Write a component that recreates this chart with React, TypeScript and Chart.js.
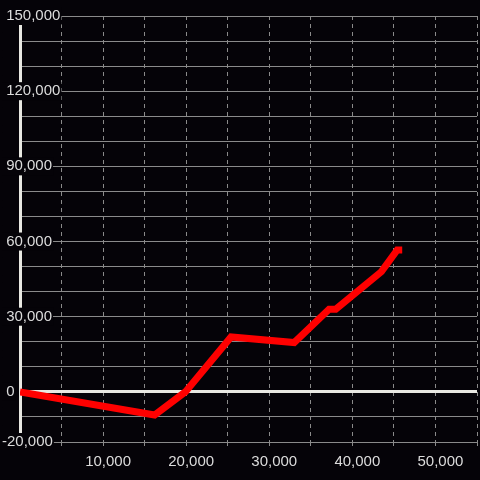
import React, { useEffect, useRef } from 'react';
import { Chart, registerables } from 'chart.js';

Chart.register(...registerables);

// Series (x in units, y in units)
const xValues = [0, 16200, 19900, 25400, 33000, 37200, 38000, 43500, 45400, 46000];
const yValues = [0, -9200, 0, 21900, 19700, 33000, 33000, 48000, 56600, 56600];

// Axis ranges / ticks
const xRange = [0, 55000];
const xStep = 5000;
const xLabeledTicks = [10000, 20000, 30000, 40000, 50000];
const yRange = [-20000, 150000];
const yStep = 10000;
const yLabeledTicks = [-20000, 0, 30000, 60000, 90000, 120000, 150000];

const BG = '#050308';
const GRID = '#8a8a8a';
const AXIS = '#e8e8e2';
const TEXT = '#dcdcdc';
const FONT = { family: "'Liberation Sans', Arial, sans-serif", size: 15 };

const fmt = (v: number) => Number(v).toLocaleString('en-US');

export default function App() {
  const ref = useRef<HTMLCanvasElement | null>(null);

  useEffect(() => {
    if (!ref.current) return;
    const chart = new Chart(ref.current, {
      type: 'line',
      data: {
        datasets: [
          {
            data: xValues.map((x, i) => ({ x, y: yValues[i] })),
            borderColor: '#ff0000',
            borderWidth: 7,
            pointRadius: 0,
            tension: 0,
            fill: false,
          },
        ],
      },
      options: {
        animation: false,
        responsive: false,
        layout: { padding: { left: 2, top: 16, right: 0, bottom: 6 } },
        plugins: { legend: { display: false }, tooltip: { enabled: false } },
        scales: {
          x: {
            type: 'linear',
            min: xRange[0],
            max: xRange[1],
            ticks: {
              stepSize: xStep,
              autoSkip: false,
              maxRotation: 0,
              minRotation: 0,
              labelOffset: 5,
              padding: 3,
              color: TEXT,
              font: FONT,
              callback: (v: any) => (xLabeledTicks.includes(Number(v)) ? fmt(Number(v)) : ''),
            },
            grid: {
              color: GRID,
              lineWidth: 1,
              drawTicks: true,
              tickLength: 8,
              tickColor: GRID,
              tickBorderDash: [4, 4],
            },
            border: { display: false, dash: [4, 4] },
          },
          y: {
            type: 'linear',
            position: 'left',
            min: yRange[0],
            max: yRange[1],
            afterFit: (s: any) => {
              s.width = 18;
            },
            ticks: {
              stepSize: yStep,
              autoSkip: false,
              mirror: true,
              padding: -18,
              color: TEXT,
              font: FONT,
              showLabelBackdrop: true,
              backdropColor: BG,
              backdropPadding: { top: 0, bottom: 0, left: 0, right: 1 },
              callback: (v: any) => {
                const n = Number(v);
                if (!yLabeledTicks.includes(n)) return '';
                return (n < 0 ? '' : ' ') + fmt(n);
              },
            },
            grid: {
              color: (ctx: any) => (ctx.tick && ctx.tick.value === 0 ? AXIS : GRID),
              lineWidth: (ctx: any) => (ctx.tick && ctx.tick.value === 0 ? 3 : 1),
              drawTicks: false,
            },
            border: { display: true, color: AXIS, width: 3 },
          },
        },
      } as any,
    });
    return () => chart.destroy();
  }, []);

  return (
    <div style={{ position: 'fixed', left: 0, top: 0, width: 480, height: 480, background: BG }}>
      <canvas ref={ref} width={480} height={480} style={{ display: 'block' }} />
    </div>
  );
}
